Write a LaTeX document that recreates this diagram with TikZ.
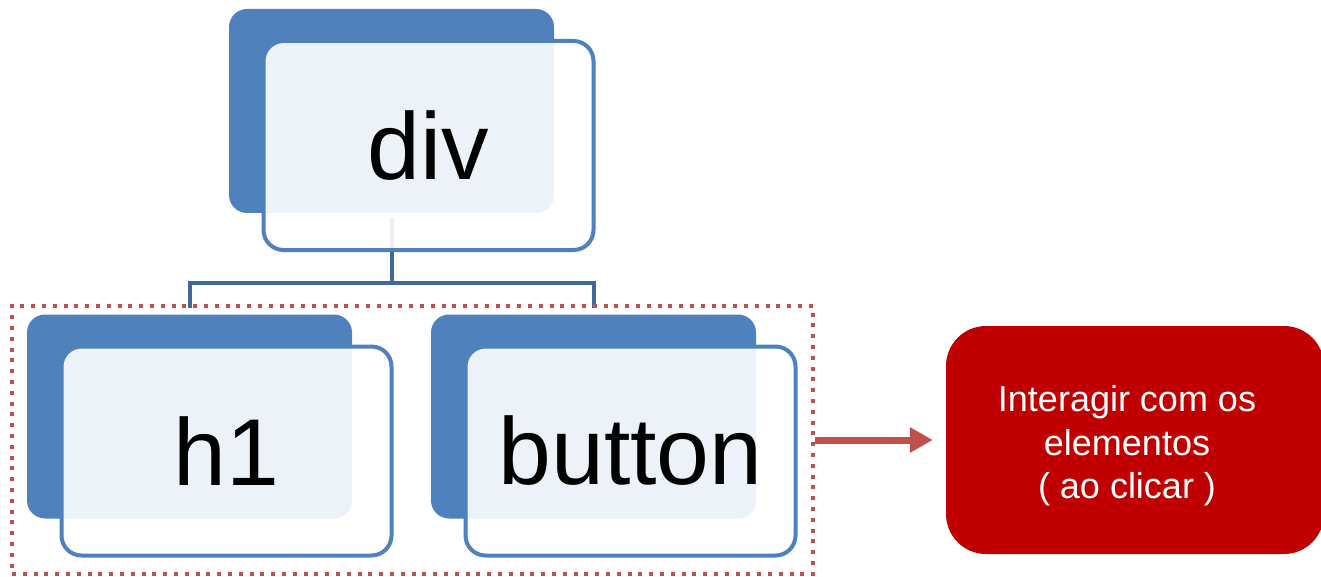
\documentclass[tikz,border=0pt]{standalone}
\usepackage{fontspec}
\setmainfont{Liberation Sans}
\usetikzlibrary{arrows.meta}

\definecolor{boxblue}{RGB}{79,129,189}
\definecolor{linkblue}{RGB}{65,104,155}
\definecolor{grpred}{RGB}{192,80,77}
\definecolor{actred}{RGB}{192,0,0}

\begin{document}
\begin{tikzpicture}[x=1pt, y=-1pt, node distance=404pt,
    backbox/.style={fill=boxblue, rounded corners=18pt, minimum width=325pt, minimum height=204pt, inner sep=0pt},
    frontbox/.style={draw=boxblue, line width=4pt, fill=white, fill opacity=0.9, text opacity=1,
      rounded corners=20pt, minimum width=330pt, minimum height=209pt, inner sep=0pt,
      font=\fontsize{95}{100}\selectfont},
    branch/.style={draw=linkblue, line width=4pt},
    grp/.style={draw=grpred, line width=4pt, dash pattern=on 4pt off 6.8pt,
      minimum width=801pt, minimum height=268pt, inner sep=0pt},
    act/.style={fill=actred, rounded corners=40pt, minimum width=378pt, minimum height=228pt, inner sep=0pt},
    acttext/.style={text=white, align=center, inner sep=0pt, font=\fontsize{36}{43.5}\selectfont}] % sizes in px of the reference

  \useasboundingbox (0,0) rectangle (1321,577);

  % back plates
  \node[backbox] (divb) at (391.5,111) {};
  \node[backbox] (h1b) at (189.5,416.5) {};
  \node[backbox] (btnb) [right of=h1b] {};

  % tree
  \draw[branch, shorten <=5pt, shorten >=6pt] (divb.south) -- ++(0,70) coordinate (fork) -| (h1b.north);
  \draw[branch, shorten >=6pt] (fork) -| (btnb.north);

  % front cards
  \node[frontbox] (div) at ([shift={(37,34.5)}]divb) {div};
  \node[frontbox] (h1) at ([shift={(37,34.5)}]h1b) {h1};
  \node[frontbox] (btn) at ([shift={(37,34.5)}]btnb) {button};

  \node[grp] (group) at (412.5,440) {};
  \node[act] (click) at (1135,440) {};
  \node[acttext] (clicktext) at ([shift={(-8,6)}]click) {Interagir com os\\elementos\\( ao clicar )};

  \draw[grpred, line width=7pt, -{Triangle[length=23pt, width=24pt]}, shorten >=13pt] (group.east) -- (click.west);
\end{tikzpicture}
\end{document}
